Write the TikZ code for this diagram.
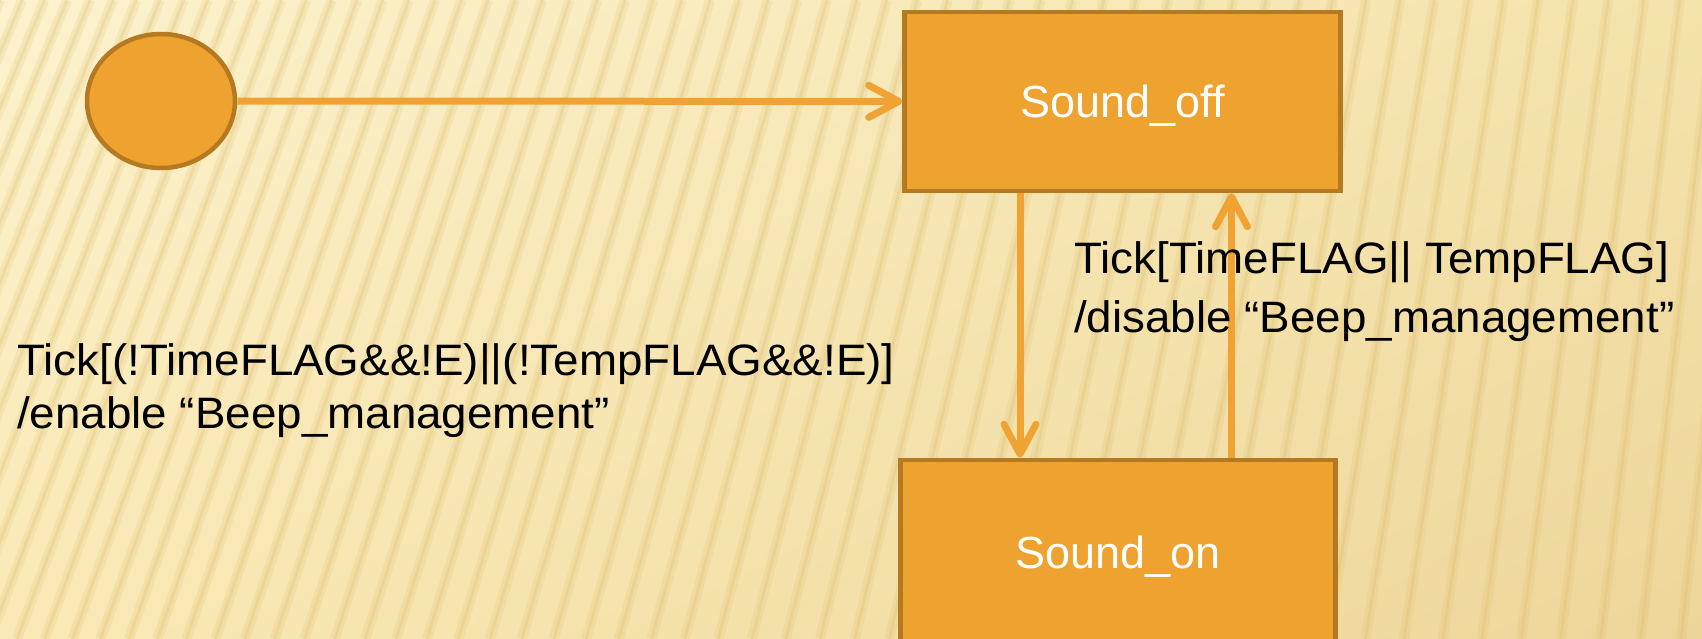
\documentclass[tikz,border=0pt]{standalone}
\usepackage{fontspec}
\setmainfont{Liberation Sans}
\newfontfamily\guardfont[FakeStretch=1.04]{Liberation Sans}
\usetikzlibrary{shapes.geometric,arrows.meta,shadings}

\definecolor{bgtl}{HTML}{FDF2CD}
\definecolor{bgtr}{HTML}{F5E3AC}
\definecolor{bgbl}{HTML}{FAE9B6}
\definecolor{bgbr}{HTML}{EDD699}
\definecolor{stripe}{HTML}{D9B866}
\definecolor{statefill}{HTML}{EEA22F}
\definecolor{stateline}{HTML}{B57A21}
\definecolor{arrowcol}{HTML}{F0A332}

\begin{document}
\begin{tikzpicture}[x=1pt, y=-1pt,
	state/.style={draw=stateline, fill=statefill, line width=4.5pt, minimum width=436pt, minimum height=179pt, text depth=0pt, text=white, font=\fontsize{45}{54}\selectfont},
	trans/.style={draw=arrowcol, line width=7pt, -{Straight Barb[length=30pt, width=32pt, line cap=round, round]}},
	guard/.style={align=left, inner sep=0pt, anchor=north west}]
	\useasboundingbox (0,0) rectangle (1702,639);
	% background
	\shade[upper left=bgtl, upper right=bgtr, lower left=bgbl, lower right=bgbr] (0,0) rectangle (1702,639);
	\foreach \i in {0,...,62} {
		\pgfmathsetmacro{\xt}{\i*22+0.12*\i*\i}
		\pgfmathsetmacro{\xb}{\xt-(0.42-0.30*\xt/1702)*639}
		\draw[stripe, line width=10pt, opacity=0.17] (\xt,0) -- (\xb,639);
		\draw[stripe, line width=3pt, opacity=0.22] (\xt,0) -- (\xb,639);
	}

	\node[ellipse, draw=stateline, fill=statefill, line width=4.5pt, minimum width=148pt, minimum height=134pt] (init) at (161,101) {};
	\node[state] (off) at (1122.5,101.5) {Sound\_off};
	\node[state, minimum width=435pt, minimum height=184pt] (on) at (1118,552) {Sound\_on};

	\draw[trans] (init) -- (off);
	\draw[trans] ([xshift=-102.5pt]off.south) -- ([xshift=-98pt]on.north);
	\draw[trans] ([xshift=113.5pt]on.north) -- ([xshift=109pt]off.south);

	\node[guard, font=\guardfont\fontsize{44}{53}\selectfont] (enable) at (17,343) {Tick[(!TimeFLAG\&\&!E)||(!TempFLAG\&\&!E)]\\/enable “Beep\_management”};
	\node[guard, font=\guardfont\fontsize{44}{59}\selectfont] (disable) at (1074,241) {Tick[TimeFLAG|| TempFLAG]\\/disable “Beep\_management”};
\end{tikzpicture}
\end{document}
